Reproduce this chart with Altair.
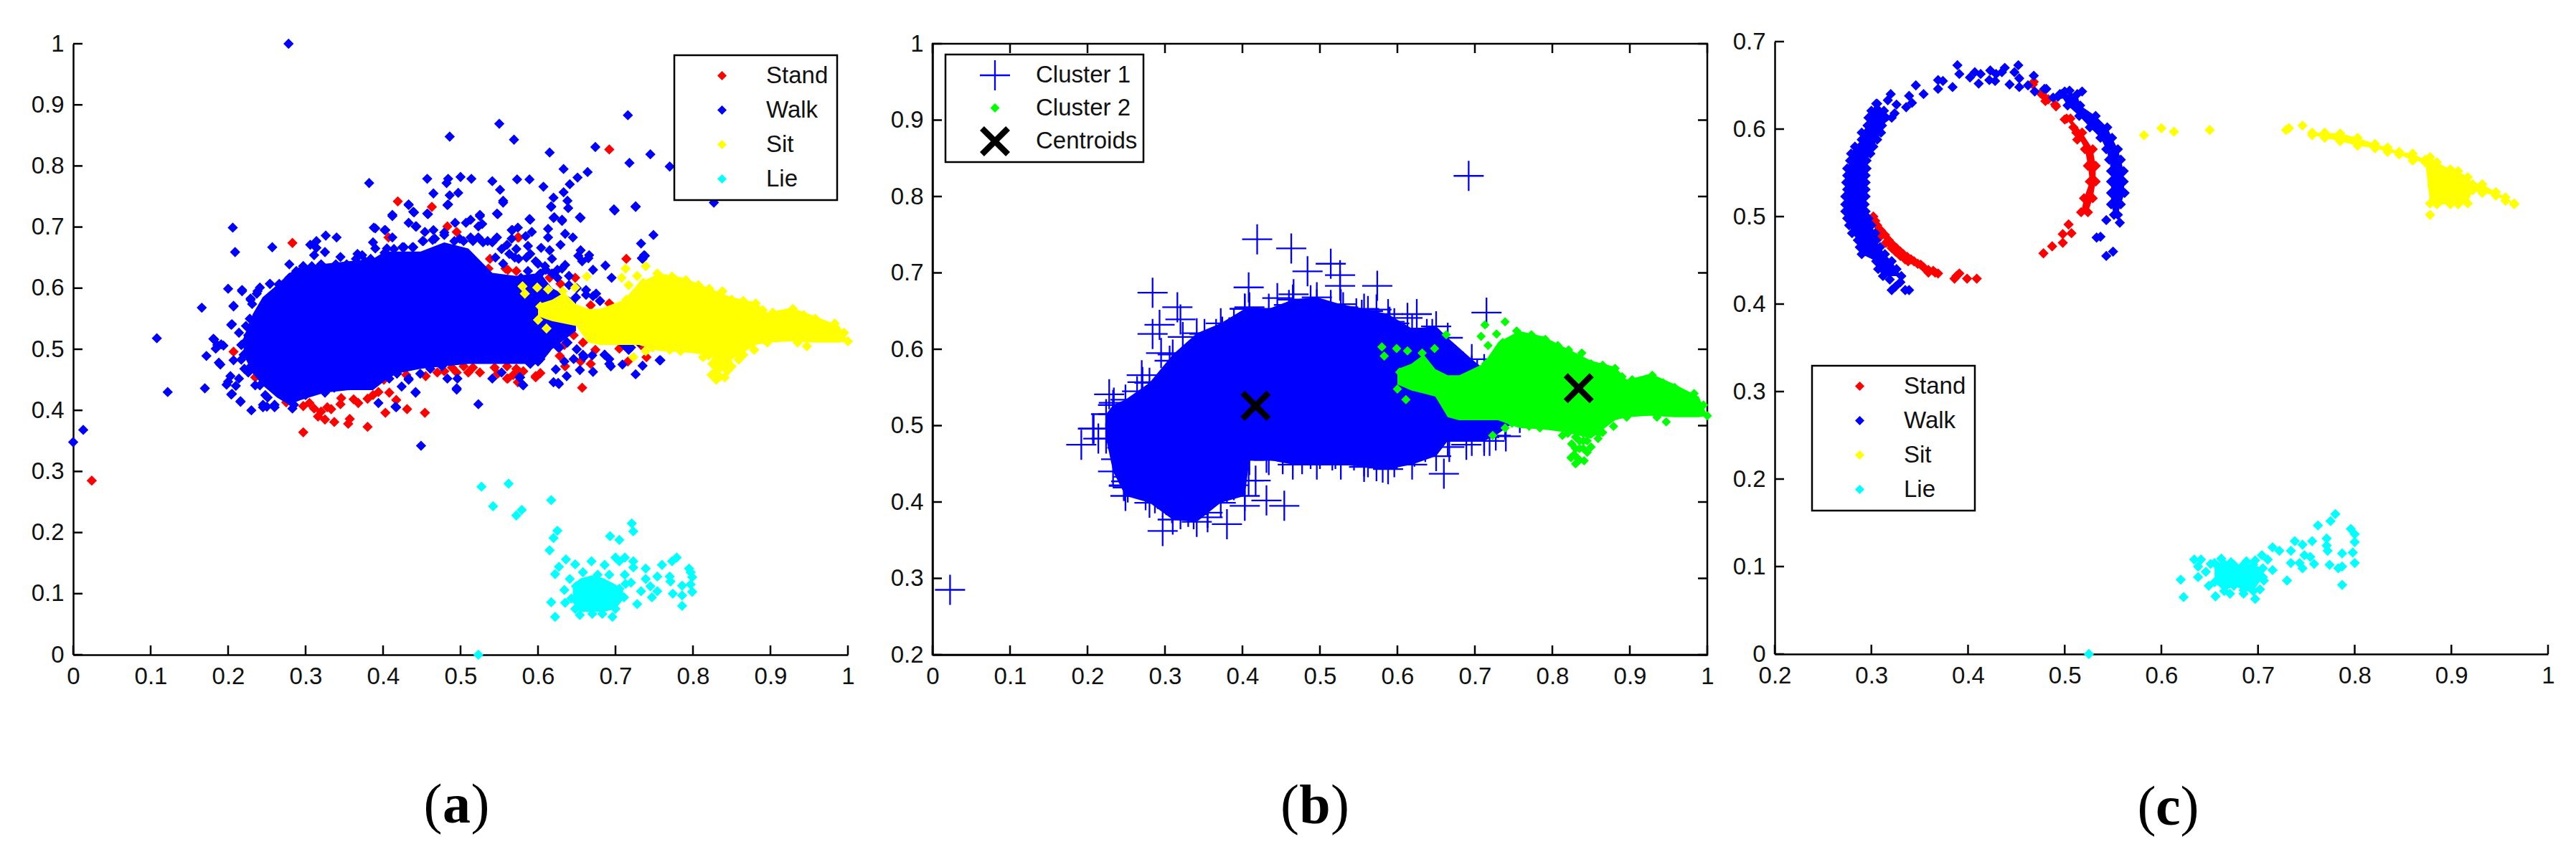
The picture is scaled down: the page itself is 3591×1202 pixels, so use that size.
import altair as alt
import pandas as pd

# ---------- tick values ----------
ticks_0_1 = [0, .1, .2, .3, .4, .5, .6, .7, .8, .9, 1]
ticks_b_y = [.2, .3, .4, .5, .6, .7, .8, .9, 1]
ticks_c_x = [.2, .3, .4, .5, .6, .7, .8, .9, 1]
ticks_c_y = [0, .1, .2, .3, .4, .5, .6, .7]

# ---------- panel (a) ----------
stand_a = [(.283,.674),(.419,.742),(.463,.733),(.483,.701),(.495,.692),(.574,.683),(.407,.683),(.207,.496),(.235,.454),(.254,.440),
(.275,.413),(.297,.407),(.311,.403),(.316,.390),(.328,.405),(.333,.402),(.325,.385),(.337,.381),(.357,.386),(.355,.378),(.380,.373),
(.297,.364),(.403,.396),(.431,.402),(.454,.396),(.417,.417),(.408,.429),(.387,.425),(.380,.419),(.362,.418),(.346,.420),(.401,.450),
(.430,.458),(.455,.456),(.479,.464),(.489,.470),(.504,.472),(.516,.470),(.530,.491),(.544,.470),(.560,.472),(.572,.468),(.560,.452),
(.581,.464),(.597,.454),(.574,.446),(.487,.654),(.475,.656),(.538,.648),(.536,.632),(.558,.632),(.572,.628),(.714,.648),(.575,.683),
(.561,.630),(.648,.617),(.629,.607),(.615,.617),(.692,.575),(.668,.572),(.680,.579),(.631,.523),(.646,.523),(.658,.511),(.674,.499),
(.634,.507),(.705,.501),(.733,.507),(.740,.487),(.716,.480),(.668,.476),(.635,.472),(.655,.480),(.657,.437),(.597,.456),(.561,.452),
(.575,.464),(.603,.461),(.628,.489),(.024,.285),(.692,.827),(.285,.420),(.305,.412),(.320,.398),(.345,.410),(.368,.412),(.394,.430),
(.495,.462),(.510,.462),(.525,.462),(.548,.460),(.568,.458),(.470,.462)]

walk_a = [(.278,1.0),(.550,.869),(.486,.848),(.569,.843),(.716,.883),(.674,.831),(.615,.822),(.718,.805),(.745,.819),(.770,.799),
(.633,.795),(.664,.790),(.651,.781),(.641,.770),(.633,.757),(.638,.743),(.639,.731),(.827,.740),(.698,.729),(.726,.734),(.457,.779),
(.382,.772),(.484,.779),(.500,.782),(.514,.779),(.482,.772),(.541,.775),(.551,.761),(.573,.778),(.589,.778),(.607,.766),(.620,.748),
(.617,.734),(.465,.755),(.486,.752),(.497,.756),(.555,.743),(.484,.737),(.457,.722),(.433,.737),(.439,.725),(.412,.720),(.433,.707),
(.443,.701),(.547,.722),(.525,.720),(.206,.699),(.209,.659),(.257,.667),(.388,.699),(.402,.695),(.589,.713),(.654,.716),(.621,.716),
(.631,.712),(.749,.687),(.733,.673),(.738,.653),(.734,.649),(.687,.637),(.695,.617),(.665,.649),(.652,.653),(.166,.568),(.108,.518),
(.122,.430),(.170,.436),(.013,.368),(.0,.348),(.449,.342),(.523,.410),(.200,.599),(.207,.571),(.218,.597),(.205,.541),(.182,.516),
(.191,.508),(.172,.489),(.188,.478),(.200,.447),(.205,.427),(.216,.415),(.230,.400),(.250,.406),(.757,.482),(.726,.459),(.626,.445),
(.580,.442),(.495,.436),(.442,.430),(.424,.439),(.416,.406),(.394,.412),(.326,.686),(.340,.683),(.306,.671),(.314,.677),(.314,.666),
(.325,.659),(.311,.654),(.279,.639),(.297,.636),(.320,.639),(.345,.651),(.339,.639),(.353,.639),(.367,.656),(.373,.654),(.384,.648),
(.387,.675),(.390,.665),(.390,.698),(.403,.695),(.412,.683),(.405,.665),(.425,.667),(.438,.667),(.412,.718),(.433,.736),(.440,.724),
(.458,.721),(.483,.736),(.442,.701),(.454,.692),(.465,.695),(.493,.707),(.507,.707),(.513,.712),(.525,.718),(.548,.721),(.555,.740),
(.590,.712),(.523,.701),(.528,.705),(.566,.695),(.574,.699),(.592,.692),(.479,.691),(.467,.681),(.451,.677),(.499,.681),(.513,.683),
(.547,.683),(.566,.681),(.584,.685),(.535,.677),(.560,.671),(.523,.683),(.241,.601),(.237,.591),(.254,.607),(.266,.607),(.218,.595),
(.229,.583),(.231,.574),(.207,.570),(.228,.550),(.204,.540),(.214,.527),(.221,.511),(.181,.517),(.186,.507),(.194,.506),(.184,.501),
(.207,.482),(.190,.475),(.221,.468),(.226,.462),(.203,.456),(.214,.452),(.198,.442),(.210,.440),(.235,.441),(.204,.426),(.216,.414),
(.245,.405),(.260,.405),(.248,.425),(.283,.403),(.417,.405),(.442,.429),(.433,.450),(.483,.452),(.496,.452),(.495,.434),(.541,.452),
(.553,.462),(.577,.454),(.581,.441),(.576,.454),(.617,.733),(.620,.715),(.631,.710),(.655,.715),(.699,.727),(.726,.733),(.737,.654),
(.735,.648),(.567,.695),(.613,.697),(.613,.683),(.635,.689),(.645,.683),(.629,.671),(.604,.666),(.615,.662),(.655,.662),(.666,.654),
(.657,.644),(.671,.630),(.635,.638),(.662,.597),(.675,.591),(.680,.579),(.717,.499),(.731,.511),(.692,.484),(.709,.475),(.735,.473),
(.758,.482),(.694,.472),(.671,.463),(.654,.466),(.637,.456),(.620,.446),(.627,.443),(.623,.467),(.659,.487),(.638,.511),(.686,.491),
(.626,.503),(.634,.480),(.545,.650),(.555,.640),(.570,.650),(.585,.650),(.600,.640),(.610,.630),(.625,.630),(.640,.620),(.650,.600),
(.610,.505),(.620,.515),(.650,.500),(.670,.490),(.600,.480),(.585,.490)]
walk_a_edge = [(.229,.581),(.238,.595),(.254,.607),(.266,.605),(.279,.617),(.288,.628),(.297,.636),(.308,.636),(.320,.638),(.333,.632),
(.345,.628),(.353,.638),(.365,.648),(.377,.644),(.390,.640),(.402,.658),(.414,.664),(.427,.667),(.439,.667),(.452,.677),(.464,.679),
(.479,.687),(.492,.677),(.504,.677),(.516,.677),(.529,.675),(.541,.675),(.553,.664),(.572,.664),(.587,.669),(.245,.409),(.260,.409),
(.272,.425),(.285,.409),(.300,.425),(.312,.433),(.325,.429),(.337,.437),(.356,.441),(.374,.444),(.396,.456),(.408,.452),(.418,.460),
(.433,.452),(.448,.460),(.461,.468),(.476,.472),(.223,.538),(.226,.523),(.217,.507),(.220,.491),(.217,.483),(.226,.468),(.241,.441),
(.251,.421),(.563,.656),(.575,.648),(.590,.656),(.597,.644),(.609,.636),(.618,.648),(.631,.632),(.587,.628),(.603,.624),(.618,.624),
(.578,.617),(.597,.613),(.625,.617),(.640,.605),(.569,.605),(.662,.589),(.671,.587),(.649,.585),(.603,.523),(.615,.523),(.612,.507),
(.597,.499),(.587,.491),(.590,.476),(.628,.503),(.637,.511),(.658,.491),(.646,.484),(.686,.491),(.692,.476),(.711,.507),(.720,.503),
(.603,.484)]

# envelope of the solid Walk body
walk_a_x = [.220,.232,.2445,.263,.2785,.294,.325,.356,.387,.402,.4175,.4485,.479,.510,.541,.572,.603,.618,.649]
walk_a_lo = [.491,.460,.441,.421,.409,.417,.429,.433,.433,.448,.460,.468,.472,.476,.476,.476,.476,.500,.530]
walk_a_hi = [.519,.558,.585,.605,.624,.636,.640,.644,.648,.660,.660,.660,.675,.665,.625,.620,.625,.600,.580]

# envelope of the solid Sit body (same records form Cluster 2 in panel b)
sit_x = [.600,.618,.634,.649,.665,.680,.711,.730,.757,.788,.819,.850,.881,.896,.927,.958,.989,1.0]
sit_lo = [.554,.546,.542,.538,.511,.507,.507,.507,.497,.495,.491,.483,.507,.511,.513,.511,.511,.513]
sit_hi = [.574,.581,.593,.574,.566,.566,.581,.609,.624,.617,.601,.585,.577,.560,.568,.554,.538,.513]
sit_pts = [(.663,.619),(.580,.603),(.583,.591),(.599,.601),(.613,.598),(.648,.601),(.632,.595),(.600,.548),(.611,.534),(.603,.570),
(.713,.632),(.739,.636),(.728,.620),(.708,.617),(.717,.605),(.736,.609),(.714,.581),(.754,.624),(.773,.619),(.791,.613),(.807,.605),
(.821,.599),(.838,.595),(.850,.581),(.865,.579),(.881,.575),(.890,.564),(.903,.560),(.929,.566),(.943,.556),(.958,.550),(.983,.542),
(.995,.527),(1.0,.513),(.947,.505),(.935,.511),(.896,.511),(.879,.499),(.865,.491),(.859,.483),(.850,.472),(.841,.454),(.830,.450),
(.824,.458),(.825,.476),(.813,.487),(.833,.491),(.784,.497),(.770,.499),(.748,.503),(.739,.497),(.723,.487),(.845,.465),(.835,.470),
(.840,.480),(.850,.495),(.830,.460),(.830,.470),(.840,.470),(.835,.455),(.845,.480),(.830,.485),(.820,.490),(.855,.495),(.860,.490),
(.840,.490),(.835,.480),(.828,.462)]

lie_a_x = [.645,.655,.670,.685,.700,.710]
lie_a_lo = [.085,.070,.070,.070,.075,.090]
lie_a_hi = [.115,.125,.130,.125,.115,.105]
lie_a = [(.617,.253),(.625,.203),(.620,.191),(.615,.171),(.636,.156),(.627,.144),(.622,.132),(.648,.148),(.669,.153),(.686,.147),
(.693,.194),(.705,.188),(.721,.215),(.723,.202),(.700,.159),(.712,.159),(.705,.153),(.723,.153),(.723,.143),(.739,.141),(.760,.147),
(.779,.159),(.773,.153),(.795,.141),(.797,.135),(.799,.127),(.797,.115),(.799,.103),(.786,.113),(.786,.097),(.774,.100),(.786,.080),
(.770,.128),(.771,.120),(.754,.104),(.747,.094),(.745,.112),(.754,.128),(.739,.124),(.733,.104),(.728,.083),(.720,.118),(.713,.116),
(.712,.131),(.658,.135),(.692,.131),(.641,.124),(.677,.131),(.634,.106),(.635,.085),(.648,.075),(.654,.065),(.670,.067),(.683,.067),
(.696,.062),(.700,.075),(.711,.094),(.705,.108),(.649,.112),(.643,.092),(.617,.086),(.622,.062),(.527,.275),(.562,.280),(.542,.243),
(.572,.228),(.579,.237),(.523,.0)]

# ---------- panel (b) ----------
cluster1_x = [.224,.233,.249,.280,.310,.341,.372,.403,.409,.434,.465,.496,.527,.557,.588,.619,.650,.665,.696,.712,.727,.758]
cluster1_lo = [.483,.440,.408,.399,.377,.374,.399,.408,.455,.455,.449,.449,.449,.446,.443,.449,.460,.480,.480,.480,.487,.510]
cluster1_hi = [.515,.527,.534,.556,.593,.621,.634,.653,.653,.653,.665,.668,.659,.653,.646,.627,.630,.615,.587,.574,.568,.530]
cluster1_pts = [(.419,.744),(.463,.732),(.514,.712),(.484,.702),(.526,.697),(.526,.683),(.574,.683),(.408,.681),(.284,.674),(.316,.655),
(.320,.639),(.293,.632),(.284,.620),(.625,.646),(.295,.595),(.270,.566),(.228,.541),(.207,.496),(.192,.475),(.454,.395),(.431,.402),
(.403,.395),(.380,.371),(.297,.362),(.355,.386),(.417,.428),(.692,.827),(.0226,.285),(.660,.437),(.715,.648),(.351,.620),(.366,.620),
(.374,.623),(.383,.622),(.389,.633),(.403,.653),(.409,.655),(.445,.667),(.460,.658),(.466,.672),(.488,.664),(.496,.659),(.514,.658),
(.530,.655),(.547,.647),(.554,.645),(.562,.650),(.573,.652),(.590,.636),(.596,.634),(.613,.641),(.638,.620),(.645,.620),(.271,.557),
(.264,.545),(.234,.530),(.233,.515),(.208,.496),(.214,.483),(.245,.471),(.237,.456),(.247,.421),(.250,.427),(.253,.433),(.323,.616),
(.306,.585),(.247,.422),(.252,.419),(.275,.409),(.287,.405),(.297,.400),(.309,.392),(.320,.384),(.330,.387),(.337,.384),(.355,.380),
(.364,.417),(.380,.419),(.389,.422),(.408,.428),(.431,.458),(.452,.456),(.477,.456),(.488,.463),(.500,.463),(.516,.461),(.520,.463),
(.544,.461),(.557,.453),(.562,.452),(.573,.447),(.581,.445),(.596,.452),(.622,.466),(.636,.472),(.662,.592),(.672,.584),(.678,.579),
(.685,.577),(.696,.572),(.703,.567),(.712,.485),(.719,.480),(.740,.486),(.689,.475),(.667,.472),(.739,.501)]
centroids = [(.417,.526),(.834,.549)]

# ---------- panel (c) ----------
walk_c_left_y = [.629,.621,.613,.604,.596,.588,.580,.572,.564,.555,.547,.539,.531,.523,.514,.506,.498,.490,.481,.473,.465,.457,.449,.440,.432]
walk_c_left_l = [.305,.300,.297,.296,.290,.290,.283,.279,.278,.275,.275,.274,.275,.273,.273,.273,.275,.277,.280,.286,.288,.290,.305,.307,.312]
walk_c_left_r = [.306,.313,.321,.311,.310,.306,.302,.299,.295,.295,.294,.294,.294,.294,.293,.294,.297,.300,.304,.305,.309,.314,.321,.326,.331]
walk_c_right_y = [.640,.627,.615,.602,.590,.577,.565,.552,.540,.527,.514,.502]
walk_c_right_l = [.495,.503,.515,.526,.537,.543,.546,.548,.548,.548,.548,.551]
walk_c_right_r = [.513,.516,.532,.544,.549,.555,.558,.561,.561,.562,.558,.555]
walk_c_pts = [(.389,.673),(.391,.663),(.369,.656),(.374,.655),(.369,.646),(.384,.648),(.346,.650),(.354,.640),(.339,.638),(.320,.640),
(.317,.633),(.342,.630),(.336,.625),(.326,.628),(.324,.618),(.402,.659),(.407,.665),(.413,.663),(.411,.652),(.423,.667),(.429,.663),
(.422,.656),(.428,.655),(.435,.665),(.438,.670),(.452,.673),(.448,.665),(.453,.658),(.443,.651),(.453,.648),(.468,.661),(.462,.650),
(.469,.643),(.479,.646),(.488,.636),(.497,.640),(.505,.644),(.507,.636),(.518,.643),(.500,.643),(.493,.637),(.481,.646),(.557,.493),
(.543,.496),(.537,.477),(.533,.476),(.550,.460),(.543,.455),(.335,.416),(.339,.416),(.321,.416),(.325,.420),(.319,.428),(.330,.425)]
stand_c_y = [.612,.596,.577,.558,.540,.521,.505]
stand_c_l = [.502,.512,.521,.524,.526,.520,.517]
stand_c_r = [.506,.518,.529,.532,.532,.529,.524]
stand_c_pts = [(.468,.654),(.467,.651),(.475,.641),(.483,.634),(.491,.626),(.504,.491),(.498,.480),(.507,.481),(.498,.470),(.487,.466),
(.478,.458),(.302,.500),(.306,.490),(.314,.479),(.322,.468),(.330,.460),(.337,.454),(.344,.449),(.354,.442),(.364,.438),(.369,.435),
(.386,.429),(.391,.435),(.399,.429),(.409,.429),(.318,.470),(.325,.460),(.335,.451),(.359,.436),(.351,.445),(.304,.495),(.310,.484),
(.318,.473),(.326,.464),(.333,.457),(.341,.451),(.348,.446),(.359,.439),(.366,.436),(.388,.432),(.309,.477),(.315,.470),(.321,.464),
(.330,.455),(.338,.449),(.490,.628),(.500,.611),(.509,.602),(.513,.588),(.480,.632),(.477,.639)]
sit_c_x = [.756,.769,.785,.803,.821,.834,.846,.860,.873,.878,.885,.899,.907,.917,.922,.932,.946,.956,.965]
sit_c_lo = [.593,.590,.586,.581,.578,.574,.571,.564,.562,.515,.514,.514,.514,.515,.530,.527,.524,.518,.514]
sit_c_hi = [.596,.596,.595,.590,.583,.579,.574,.572,.565,.568,.562,.554,.552,.545,.537,.537,.528,.522,.515]
sit_c_pts = [(.582,.593),(.600,.601),(.613,.597),(.650,.599),(.732,.601),(.746,.604),(.729,.599),(.878,.502),(.880,.535),(.890,.530),
(.900,.530),(.910,.530),(.886,.522),(.896,.522),(.906,.522)]
lie_c_x = [.655,.665,.675,.685,.695,.705]
lie_c_lo = [.082,.072,.078,.073,.072,.088]
lie_c_hi = [.104,.103,.102,.102,.102,.098]
lie_c_pts = [(.620,.085),(.623,.065),(.638,.088),(.634,.108),(.641,.108),(.638,.100),(.646,.094),(.651,.103),(.656,.066),(.649,.078),
(.671,.069),(.685,.069),(.697,.063),(.702,.074),(.706,.084),(.715,.096),(.722,.118),(.715,.122),(.704,.113),(.710,.108),(.697,.107),
(.688,.106),(.672,.105),(.662,.109),(.730,.084),(.734,.104),(.734,.118),(.738,.129),(.746,.125),(.756,.129),(.748,.113),(.743,.104),
(.746,.098),(.754,.111),(.758,.103),(.762,.147),(.775,.152),(.780,.160),(.771,.132),(.771,.124),(.772,.118),(.774,.102),(.783,.098),
(.787,.100),(.787,.115),(.787,.079),(.796,.143),(.800,.137),(.800,.128),(.798,.116),(.800,.104),(.525,.0)]

# ---------- styling ----------
FONT = "Liberation Sans"
FONT_SIZE = 33
INK = "#111111"
RED, BLUE, YELLOW, CYAN, GREEN = "#ff0000", "#0000ff", "#ffff00", "#00ffff", "#00ff00"
LW = 2.5
TICK = 13
PLUS = "M-1,-.055L-.055,-.055L-.055,-1L.055,-1L.055,-.055L1,-.055L1,.055L.055,.055L.055,1L-.055,1L-.055,.055L-1,.055Z"
XMARK = "M-1,-.72L-.72,-1L0,-.28L.72,-1L1,-.72L.28,0L1,.72L.72,1L0,.28L-.72,1L-1,.72L-.28,0Z"
DIAMOND_SIZE = 205
LEGEND_DIAMOND = 169
CROSS_SIZE = 1764


def pts(rows, name):
    return pd.DataFrame({"x": [r[0] for r in rows], "y": [r[1] for r in rows], "s": name})


def edge_v(xs, lo, hi, name):
    return pts(list(zip(xs, lo)) + list(zip(xs, hi)), name)


def edge_h(ys, left, right, name):
    return pts(list(zip(left, ys)) + list(zip(right, ys)), name)


class Panel:
    def __init__(self, xd, yd, xt, yt, w, h, yrange=None, xrange=None, group_w=None):
        self.w, self.h, self.xt, self.yt = w, h, xt, yt
        self.group_w = group_w or w
        ax = dict(title=None, grid=False, ticks=False, format=".1~f", domainColor="black", domainWidth=LW,
                  labelFont=FONT, labelFontSize=FONT_SIZE, labelColor=INK, labelOverlap=False, labelFlush=False,
                  labelBound=False)
        xsc = dict(domain=xd, nice=False, zero=False)
        if xrange:
            xsc["range"] = xrange
        self.X = alt.X("x:Q", scale=alt.Scale(**xsc), axis=alt.Axis(values=xt, labelPadding=14, **ax))
        ysc = dict(domain=yd, nice=False, zero=False)
        if yrange:
            ysc["range"] = yrange
        self.Y = alt.Y("y:Q", scale=alt.Scale(**ysc), axis=alt.Axis(values=yt, labelPadding=13, **ax))
        self.layers = []

    def area_v(self, xs, lo, hi, color):
        df = pd.DataFrame({"x": xs, "y": lo, "y2": hi})
        self.layers.append(alt.Chart(df).mark_area(color=color, orient="vertical", opacity=1).encode(
            x=self.X, y=self.Y, y2="y2:Q"))

    def area_h(self, ys, left, right, color):
        df = pd.DataFrame({"y": ys, "x": left, "x2": right})
        self.layers.append(alt.Chart(df).mark_area(color=color, orient="horizontal", opacity=1).encode(
            x=self.X, x2="x2:Q", y=self.Y))

    def points(self, df, names, colors, legend, shapes=None, sizes=None):
        color = alt.Color("s:N", scale=alt.Scale(domain=names, range=colors), legend=legend)
        if shapes:
            ch = alt.Chart(df).mark_point(filled=True, opacity=1, strokeWidth=0).encode(
                x=self.X, y=self.Y, color=color,
                shape=alt.Shape("s:N", scale=alt.Scale(domain=names, range=shapes), legend=legend),
                size=alt.Size("s:N", scale=alt.Scale(type="ordinal", domain=names, range=sizes), legend=legend))
        else:
            ch = alt.Chart(df).mark_point(filled=True, opacity=1, strokeWidth=0, shape="diamond",
                                          size=DIAMOND_SIZE).encode(x=self.X, y=self.Y, color=color)
        self.layers.append(ch)

    def ticks(self, frame=False):
        black = dict(color="black", strokeWidth=LW)
        xdf, ydf = pd.DataFrame({"x": self.xt}), pd.DataFrame({"y": self.yt})
        self.layers.append(alt.Chart(xdf).mark_rule(**black).encode(
            x=self.X, y=alt.value(self.h), y2=alt.value(self.h - TICK)))
        self.layers.append(alt.Chart(ydf).mark_rule(**black).encode(
            y=self.Y, x=alt.value(0), x2=alt.value(TICK)))
        if frame:
            self.layers.append(alt.Chart(xdf).mark_rule(**black).encode(
                x=self.X, y=alt.value(0), y2=alt.value(TICK)))
            self.layers.append(alt.Chart(ydf).mark_rule(**black).encode(
                y=self.Y, x=alt.value(self.w), x2=alt.value(self.w - TICK)))

    def caption(self, letter, x, y, half):
        df = pd.DataFrame({"x": [x], "y": [y]})
        common = dict(font="Liberation Serif", fontSize=78, color="black", baseline="alphabetic")
        self.layers.append(alt.Chart(df.assign(t=letter)).mark_text(align="center", fontWeight="bold", **common).encode(
            x=self.X, y=self.Y, text="t:N"))
        self.layers.append(alt.Chart(df.assign(t="(")).mark_text(align="right", dx=-half, **common).encode(
            x=self.X, y=self.Y, text="t:N"))
        self.layers.append(alt.Chart(df.assign(t=")")).mark_text(align="left", dx=half, **common).encode(
            x=self.X, y=self.Y, text="t:N"))

    def chart(self):
        return alt.layer(*self.layers).properties(width=self.group_w, height=self.h)


def legend(x, y, offset, lab_off, padding, row_padding, **kw):
    return alt.Legend(title=None, orient="none", legendX=x, legendY=y, padding=padding, rowPadding=row_padding,
                      symbolOffset=offset, labelOffset=lab_off, fillColor="white", strokeColor="black",
                      labelFont=FONT, labelFontSize=FONT_SIZE, labelColor=INK, symbolStrokeWidth=0, **kw)


ACT = ["Stand", "Walk", "Sit", "Lie"]
ACT_C = [RED, BLUE, YELLOW, CYAN]

# panel a: the group is wider than its plot so the gap to panel b can differ from the gap b-c
a = Panel([0, 1], [0, 1], ticks_0_1, ticks_0_1, 1080, 852, xrange=[0, 1080], group_w=1104)
leg_a = legend(838, 16, 38, 45, 12, 14, symbolType="diamond", symbolSize=LEGEND_DIAMOND)
a.points(pts(stand_a, "Stand"), ACT, ACT_C, leg_a)
a.area_v(walk_a_x, walk_a_lo, walk_a_hi, BLUE)
a.points(pd.concat([pts(walk_a, "Walk"), pts(walk_a_edge, "Walk")]), ACT, ACT_C, leg_a)
a.area_v(sit_x, sit_lo, sit_hi, YELLOW)
a.points(pts(sit_pts, "Sit"), ACT, ACT_C, leg_a)
a.area_v(lie_a_x, lie_a_lo, lie_a_hi, CYAN)
a.points(pts(lie_a, "Lie"), ACT, ACT_C, leg_a)
a.ticks()
a.caption("a", .495, -.275, 20)

# panel b
b = Panel([0, 1], [.2, 1], ticks_0_1, ticks_b_y, 1080, 852)
CL = ["Cluster 1", "Cluster 2", "Centroids"]
leg_b = legend(18, 15, 40, 36, 8, 8)
sh, sz = [PLUS, "diamond", XMARK], [CROSS_SIZE, LEGEND_DIAMOND, CROSS_SIZE]
b.area_v(cluster1_x, cluster1_lo, cluster1_hi, BLUE)
b.points(pd.concat([pts(cluster1_pts, CL[0]),
                    edge_v(cluster1_x, cluster1_lo, cluster1_hi, CL[0])]),
         CL, [BLUE, GREEN, "black"], leg_b, sh, sz)
b.area_v(sit_x, sit_lo, sit_hi, GREEN)
b.points(pts(sit_pts, CL[1]), CL, [BLUE, GREEN, "black"], leg_b, sh, sz)
b.points(pts(centroids, CL[2]), CL, [BLUE, GREEN, "black"], leg_b, sh, sz)
b.ticks(frame=True)
b.caption("b", .4935, -.021, 22)

# panel c
c = Panel([.2, 1], [0, .7], ticks_c_x, ticks_c_y, 1078, 851, yrange=[851, -3])
leg_c = legend(52, 449, 38, 45, 12, 14, symbolType="diamond", symbolSize=LEGEND_DIAMOND)
c.area_h(stand_c_y, stand_c_l, stand_c_r, RED)
c.points(pd.concat([pts(stand_c_pts, "Stand"), edge_h(stand_c_y, stand_c_l, stand_c_r, "Stand")]), ACT, ACT_C, leg_c)
c.area_h(walk_c_left_y, walk_c_left_l, walk_c_left_r, BLUE)
c.area_h(walk_c_right_y, walk_c_right_l, walk_c_right_r, BLUE)
c.points(pd.concat([pts(walk_c_pts, "Walk"),
                    edge_h(walk_c_left_y, walk_c_left_l, walk_c_left_r, "Walk"),
                    edge_h(walk_c_right_y, walk_c_right_l, walk_c_right_r, "Walk")]), ACT, ACT_C, leg_c)
c.area_v(sit_c_x, sit_c_lo, sit_c_hi, YELLOW)
c.points(pd.concat([pts(sit_c_pts, "Sit"), edge_v(sit_c_x, sit_c_lo, sit_c_hi, "Sit")]), ACT, ACT_C, leg_c)
c.area_v(lie_c_x, lie_c_lo, lie_c_hi, CYAN)
c.points(pd.concat([pts(lie_c_pts, "Lie"), edge_v(lie_c_x, lie_c_lo, lie_c_hi, "Lie")]), ACT, ACT_C, leg_c)
c.ticks()
c.caption("c", .607, -.195, 17)

chart = alt.hconcat(
    a.chart(),
    b.chart().properties(view=alt.ViewBackground(stroke="black", strokeWidth=LW)),
    c.chart(),
    spacing=94, bounds="flush"
).resolve_scale(color="independent", shape="independent", size="independent"
).properties(padding={"left": 34, "top": 33, "right": 0, "bottom": 0}, background="white"
).configure_view(stroke="transparent").configure_legend(strokeWidth=2.5)

chart.save("out.html", embed_options={"renderer": "svg", "actions": False})
